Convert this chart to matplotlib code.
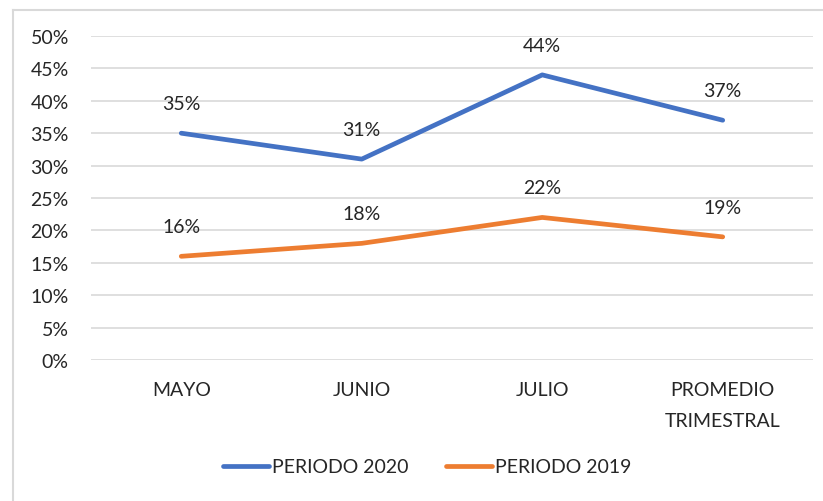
import matplotlib
matplotlib.use("Agg")
import matplotlib.pyplot as plt
from matplotlib.lines import Line2D
from matplotlib.ticker import FuncFormatter, MultipleLocator

categories = ["MAYO", "JUNIO", "JULIO", "PROMEDIO\nTRIMESTRAL"]
periodo_2020 = [35, 31, 44, 37]
periodo_2019 = [16, 18, 22, 19]

plt.rcParams["font.family"] = ["Lato", "DejaVu Sans"]
text_color = "#262626"
grid_color = "#d9d9d9"
blue = "#4472C4"
orange = "#ED7D31"
fs = 14

fig = plt.figure(figsize=(8.23, 5.02), dpi=100)
ax = fig.add_axes([0.1106, 0.2809, 0.8772, 0.6454])

x = list(range(len(categories)))
ax.plot(x, periodo_2020, color=blue, lw=3.4, solid_capstyle="round", label="PERIODO 2020")
ax.plot(x, periodo_2019, color=orange, lw=3.4, solid_capstyle="round", label="PERIODO 2019")

for series in (periodo_2020, periodo_2019):
    for xi, v in zip(x, series):
        ax.annotate(f"{v}%", (xi, v), xytext=(0, 21.5), textcoords="offset points",
                    ha="center", va="center", fontsize=fs, color=text_color)

ax.set_xlim(-0.5, len(categories) - 0.5)
ax.set_ylim(0, 50)
ax.yaxis.set_major_locator(MultipleLocator(5))
ax.yaxis.set_major_formatter(FuncFormatter(lambda v, p: f"{v:.0f}%"))
ax.set_xticks(x)
ax.set_xticklabels(categories, linespacing=2.0)
ax.tick_params(axis="both", length=0, labelsize=fs, labelcolor=text_color)
ax.tick_params(axis="y", pad=16)
ax.tick_params(axis="x", pad=15)
for lbl in ax.get_xticklabels():
    lbl.set_verticalalignment("top")

ax.grid(axis="y", color=grid_color, lw=1.2)
ax.set_axisbelow(True)
for s in ax.spines.values():
    s.set_visible(False)

fig.legend(handles=[Line2D([], [], color=blue, lw=3.4, solid_capstyle="round"),
                    Line2D([], [], color=orange, lw=3.4, solid_capstyle="round")],
           labels=["PERIODO 2020", "PERIODO 2019"],
           loc="center", bbox_to_anchor=(427 / 823, 1 - 468 / 502),
           ncol=2, frameon=False, fontsize=fs, handlelength=2.4, handletextpad=0.15,
           columnspacing=1.9, labelcolor=text_color)

# chart frame (top and left edges)
fig.add_artist(Line2D([13 / 823, 1.0], [1 - 11 / 502, 1 - 11 / 502], color=grid_color, lw=1.5,
                      transform=fig.transFigure))
fig.add_artist(Line2D([13 / 823, 13 / 823], [0.0, 1 - 11 / 502], color=grid_color, lw=1.5,
                      transform=fig.transFigure))

fig.savefig("out.png", dpi=100, facecolor="white")
